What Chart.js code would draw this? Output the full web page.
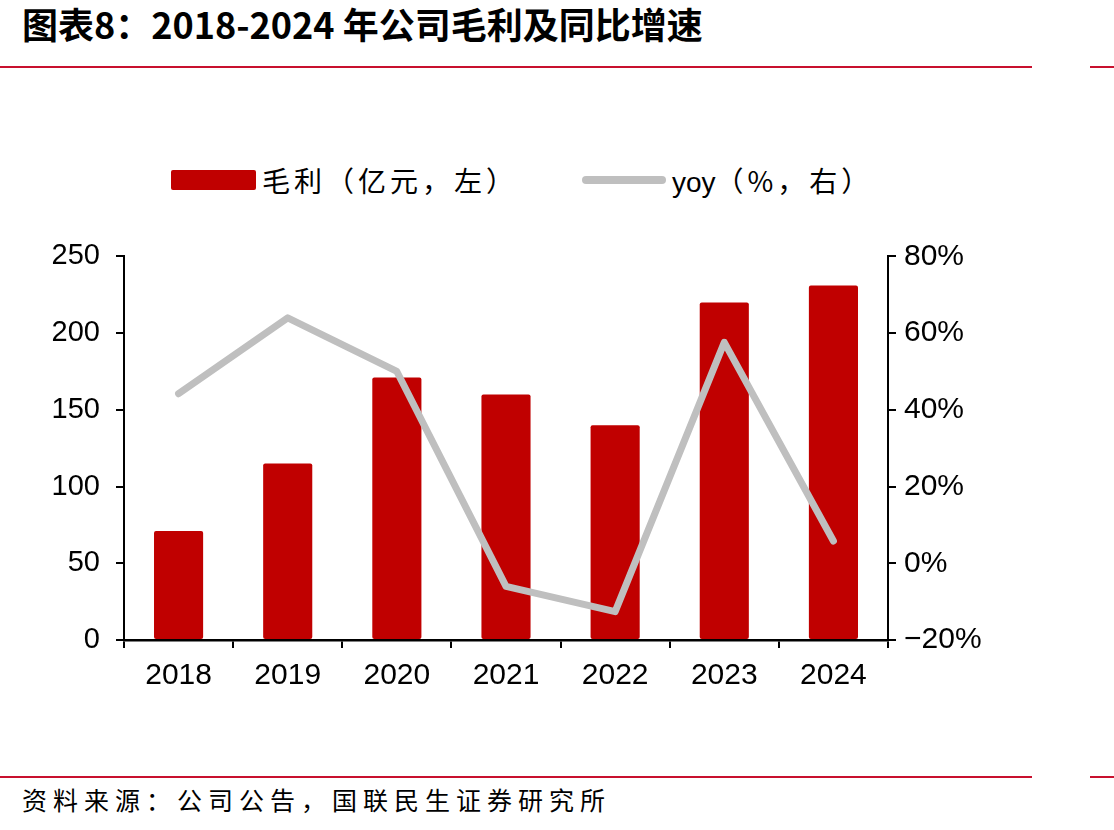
<!DOCTYPE html>
<html>
<head>
<meta charset="utf-8">
<script src="https://cdn.jsdelivr.net/npm/chart.js@4.4.1/dist/chart.umd.min.js"></script>
<style>
    body { margin: 0; background: #fff; width: 1114px; height: 830px; position: relative; overflow: hidden; font-family: "Noto Sans CJK SC", sans-serif; }
    .title { position: absolute; left: 22px; top: -3px; font-size: 36px; font-weight: 700; color: #000; white-space: nowrap; }
    .rule { position: absolute; height: 2px; background: #C8102E; }
    .legend { position: absolute; top: 160px; font-size: 28px; letter-spacing: 4px; color: #000; white-space: nowrap; }
    .footer { position: absolute; left: 22px; top: 781px; font-size: 25px; letter-spacing: 6px; color: #000; white-space: nowrap; }
    #wrap { position: absolute; left: 0; top: 223px; width: 1114px; height: 487px; }
</style>
</head>
<body>

<div class="title">图表8：2018-2024 年公司毛利及同比增速</div>
<div class="rule" style="left:0; width:1032px; top:66px;"></div>
<div class="rule" style="left:1090px; width:24px; top:66px;"></div>

<div style="position:absolute; left:171px; top:170px; width:85px; height:20px; background:#C00000; border-radius:2px;"></div>
<div class="legend" style="left:262px;">毛利（亿元，左）</div>
<div style="position:absolute; left:582px; top:176px; width:84px; height:8px; background:#BFBFBF; border-radius:4px;"></div>
<div class="legend" style="left:672px;"><span style="letter-spacing:0; font-family:'Liberation Sans', sans-serif;">yoy</span>（%，右）</div>

<div id="wrap"><canvas id="chart"></canvas></div>

<div class="rule" style="left:0; width:1032px; top:776px;"></div>
<div class="rule" style="left:1090px; width:24px; top:776px;"></div>
<div class="footer">资料来源：公司公告，国联民生证券研究所</div>

<script>
// -----------------------------------------
// Data
// -----------------------------------------
const years = ["2018", "2019", "2020", "2021", "2022", "2023", "2024"];
const grossProfit = [71, 115, 171, 160, 140, 220, 231];      // 亿元
const yoyGrowth = [44.2, 64.0, 50.0, -6.0, -12.6, 57.6, 5.8];  // %

const leftTicks = { min: 0, max: 250, step: 50 };
const rightTicks = { min: -20, max: 80, step: 20 };

const tickFont = { family: "'Liberation Sans', Arial, sans-serif", size: 29 };
const narrowFont = { family: "'Liberation Sans Narrow', 'Liberation Sans', sans-serif", size: 30 };

new Chart(document.getElementById("chart"), {
    type: "bar",
    data: {
        labels: years,
        datasets: [
            {
                type: "line",
                label: "yoy（%，右）",
                data: yoyGrowth,
                yAxisID: "y1",
                borderColor: "#BFBFBF",
                borderWidth: 7,
                borderCapStyle: "round",
                borderJoinStyle: "round",
                pointRadius: 0,
                tension: 0,
                order: 0
            },
            {
                label: "毛利（亿元，左）",
                data: grossProfit,
                yAxisID: "y",
                backgroundColor: "#C00000",
                borderRadius: 2,
                borderSkipped: false,
                categoryPercentage: 1,
                barPercentage: 0.45,
                order: 1
            }
        ]
    },
    options: {
        responsive: true,
        maintainAspectRatio: false,
        animation: false,
        layout: { padding: { top: 18, left: 0, right: 0, bottom: 0 } },
        plugins: {
            legend: { display: false },
            tooltip: { enabled: false }
        },
        scales: {
            x: {
                grid: { display: true, drawOnChartArea: false, drawTicks: true, tickLength: 8, color: "#000", lineWidth: 2, offset: true },
                border: { display: true, color: "#000", width: 2.5 },
                ticks: { color: "#000", font: narrowFont, padding: 10, maxRotation: 0 },
                afterFit: function (scale) { scale.height = 70; }
            },
            y: {
                position: "left",
                min: leftTicks.min,
                max: leftTicks.max,
                grid: { display: true, drawOnChartArea: false, tickLength: 8, color: "#000", lineWidth: 2 },
                border: { display: true, color: "#000", width: 2 },
                ticks: { stepSize: leftTicks.step, color: "#000", font: tickFont, padding: 16 },
                afterFit: function (scale) { scale.width = 124; }
            },
            y1: {
                position: "right",
                min: rightTicks.min,
                max: rightTicks.max,
                grid: { display: true, drawOnChartArea: false, tickLength: 8, color: "#000", lineWidth: 2 },
                border: { display: true, color: "#000", width: 2 },
                ticks: {
                    stepSize: rightTicks.step,
                    color: "#000",
                    font: narrowFont,
                    padding: 8,
                    callback: function (v) { return (v < 0 ? "−" + Math.abs(v) : v) + "%"; }
                },
                afterFit: function (scale) { scale.width = 1114 - 888; }
            }
        }
    }
});
</script>
</body>
</html>
